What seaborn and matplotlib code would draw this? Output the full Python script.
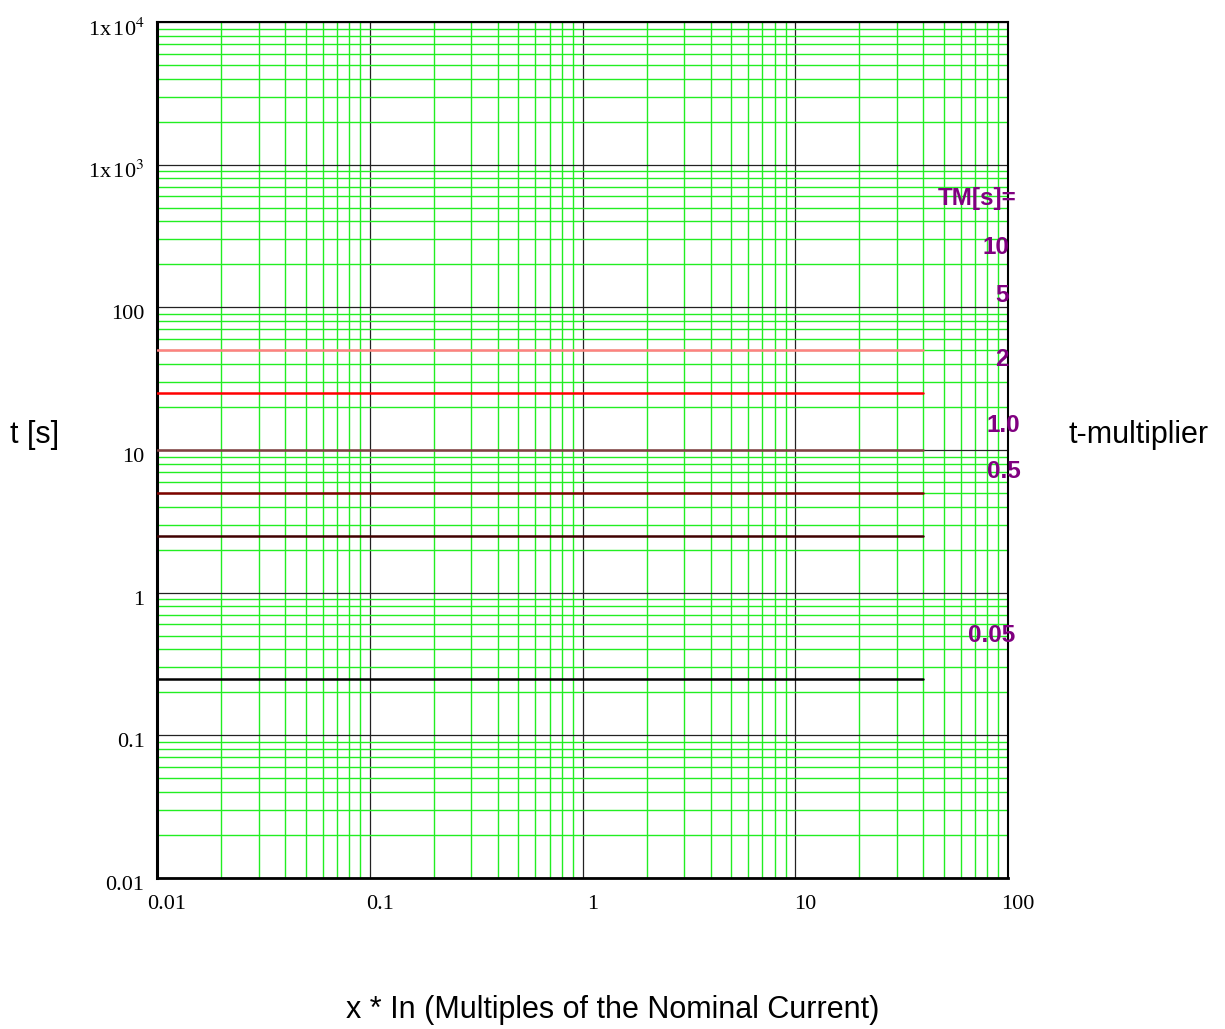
import numpy as np
import pandas as pd
import matplotlib
matplotlib.use("Agg")
import matplotlib.pyplot as plt
import matplotlib.ticker as mticker
import matplotlib.transforms as mtrans
import seaborn as sns

# ---- data ----
tm_times = [50, 25, 10, 5, 2.5, 0.25]          # trip times of the drawn curves [s]
curve_names = ["c50", "c25", "c10", "c5", "c2.5", "c0.25"]
curve_colors = ["#ff8080", "#ff0000", "#804040", "#800000", "#400000", "#000000"]
x_start, x_end = 0.01, 40                        # current multiples range of the curves
tm_labels = ["TM[s]=", "10", "5", "2", "1.0", "0.5", "0.05"]
x_ticks = [0.01, 0.1, 1, 10, 100]
x_ticklabels = ["0.01", "0.1", "1", "10", "100"]
y_ticks = [0.01, 0.1, 1, 10, 100, 1000, 10000]
y_ticklabels = ["0.01", "0.1", "1", "10", "100", r"1x$\,$10$^{3}$", r"1x$\,$10$^{4}$"]

rows = []
for name, t in zip(curve_names, tm_times):
    rows.append({"curve": name, "x": x_start, "t": t})
    rows.append({"curve": name, "x": x_end, "t": t})
df = pd.DataFrame(rows)

sns.set_theme(style="white")
plt.rcParams["font.family"] = ["Liberation Sans", "DejaVu Sans"]
plt.rcParams["mathtext.fontset"] = "stix"
plt.rcParams["text.color"] = "black"

W, H = 1225, 1029
fig = plt.figure(figsize=(W / 100, H / 100), dpi=100)
L, R, T, B = 157, 1008, 22, 878
ax = fig.add_axes([L / W, 1 - B / H, (R - L) / W, (B - T) / H])

ax.set_xscale("log")
ax.set_yscale("log")
ax.set_xlim(0.01, 100)
ax.set_ylim(0.01, 10000)

# grids
ax.xaxis.set_major_locator(mticker.FixedLocator(x_ticks))
ax.yaxis.set_major_locator(mticker.FixedLocator(y_ticks))
ax.xaxis.set_minor_locator(mticker.LogLocator(base=10, subs=np.arange(2, 10), numticks=100))
ax.yaxis.set_minor_locator(mticker.LogLocator(base=10, subs=np.arange(2, 10), numticks=100))
ax.xaxis.set_minor_formatter(mticker.NullFormatter())
ax.yaxis.set_minor_formatter(mticker.NullFormatter())
ax.grid(True, which="minor", color="#22ee22", linewidth=1.0, zorder=0)
ax.grid(True, which="major", color="#222222", linewidth=0.9, zorder=0.5)
ax.set_axisbelow(True)

sns.lineplot(data=df, x="x", y="t", hue="curve", hue_order=curve_names,
             palette=curve_colors, linewidth=1.8, legend=False, ax=ax,
             estimator=None, sort=False, zorder=3)

ax.set_xticks(x_ticks)
ax.set_xticklabels(x_ticklabels, fontfamily="Liberation Serif", fontsize=16)
ax.set_yticks(y_ticks)
ax.set_yticklabels(y_ticklabels, fontfamily="Liberation Serif", fontsize=16)
ax.tick_params(axis="both", which="both", length=0, labelcolor="black")
ax.tick_params(axis="x", pad=12)
ax.tick_params(axis="y", pad=9)
ax.set_xlabel("")
ax.set_ylabel("")

dx = mtrans.ScaledTranslation(10 / 100, 0, fig.dpi_scale_trans)
for lab in ax.get_xticklabels():
    lab.set_transform(lab.get_transform() + dx)
dy = mtrans.ScaledTranslation(0, -5 / 100, fig.dpi_scale_trans)
for lab in ax.get_yticklabels():
    lab.set_transform(lab.get_transform() + dy)

for side, sp in ax.spines.items():
    sp.set_visible(True)
    sp.set_color("black")
    sp.set_linewidth(1.5)
ax.spines["left"].set_linewidth(2.2)
ax.spines["bottom"].set_linewidth(2.0)

# TM labels (purple)
label_px = [(938, 199), (982, 248), (995, 296), (995, 360), (987, 425), (987, 472), (968, 635)]
for txt, (px, py) in zip(tm_labels, label_px):
    ax.text((px - L) / (R - L), (B - py) / (B - T), txt, transform=ax.transAxes,
            ha="left", va="center", fontsize=17.5, fontweight="bold", color="#800080",
            clip_on=False, zorder=5)

fig.text(35 / W, 1 - 435 / H, "t [s]", ha="center", va="center", fontsize=22, color="black")
fig.text(1139 / W, 1 - 435 / H, "t-multiplier", ha="center", va="center", fontsize=22, color="black")
fig.text(613 / W, 1 - 1010 / H, "x * In (Multiples of the Nominal Current)",
         ha="center", va="center", fontsize=22, color="black")

fig.savefig("out.png", dpi=100)
